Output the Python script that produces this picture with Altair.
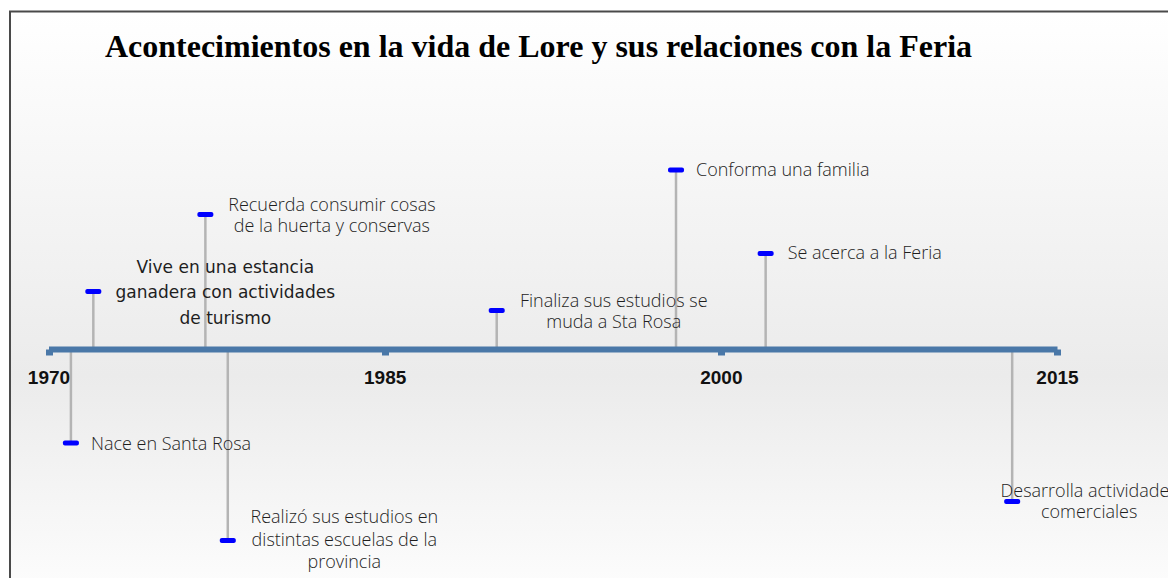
import altair as alt
import pandas as pd

# ---- data ----
title_text = "Acontecimientos en la vida de Lore y sus relaciones con la Feria"
years = [1971, 1972, 1977, 1978, 1990, 1998, 2002, 2013]
levels = [-94, 57.5, 134.5, -191.5, 38.5, 179, 95.5, -152.5]
labels = [
    "Nace en Santa Rosa",
    "Vive en una estancia\nganadera con actividades\nde turismo",
    "Recuerda consumir cosas\nde la huerta y conservas",
    "Realizó sus estudios en\ndistintas escuelas de la\nprovincia",
    "Finaliza sus estudios se\nmuda a Sta Rosa",
    "Conforma una familia",
    "Se acerca a la Feria",
    "Desarrolla actividades\ncomerciales",
]
axis_years = [1970, 1985, 2000, 2015]

df = pd.DataFrame({"year": years, "level": levels, "label": labels,
                   "idx": list(range(len(years)))})

W, H = 1160, 570
AXIS_COLOR = "#4a78a8"

xscale = alt.Scale(domain=[1970, 2015], range=[40.5, 1049], nice=False, zero=False)
yscale = alt.Scale(domain=[-220, 220], range=[561, 121], nice=False, zero=False)

x_axis = alt.Axis(
    values=axis_years, format="d", title="", orient="bottom", offset=-229,
    domainColor=AXIS_COLOR, domainWidth=6, domainCap="butt",
    tickColor=AXIS_COLOR, tickWidth=7, tickSize=6,
    labelFont="Liberation Sans", labelFontSize=19, labelFontWeight="bold",
    labelColor="#111111", labelPadding=13, labelFlush=False, labelOverlap=False,
    grid=False, zindex=1,
)
X = alt.X("year:Q", scale=xscale, axis=x_axis)

grad = alt.LinearGradient(
    gradient="linear",
    stops=[
        alt.GradientStop(color="#ffffff", offset=0),
        alt.GradientStop(color="#ebebeb", offset=0.6),
        alt.GradientStop(color="#ffffff", offset=1),
    ],
    x1=0, x2=0, y1=0, y2=1,
)

background = alt.Chart(alt.Data(values=[{"a": 1}])).mark_rect(
    fill=grad, stroke="#4a4a4a", strokeWidth=2
).encode(
    x=alt.value(2), x2=alt.value(W + 40), y=alt.value(3.5), y2=alt.value(H + 40)
)

title = alt.Chart(alt.Data(values=[{"t": title_text}])).mark_text(
    font="Liberation Serif", fontSize=32, fontWeight="bold", color="#000000",
    align="center", baseline="alphabetic"
).encode(x=alt.value(530.5), y=alt.value(49), text="t:N")

base = alt.Chart(df)

stems = base.transform_calculate(zero="0").mark_rule(
    color="#b4b4b4", strokeWidth=2.5
).encode(
    x=X,
    y=alt.Y("zero:Q", scale=yscale, axis=None),
    y2="level:Q",
)

markers = base.mark_tick(
    orient="horizontal", size=16, thickness=5, color="#0000ff", cornerRadius=2,
    opacity=1
).encode(x=X, y=alt.Y("level:Q", scale=yscale, axis=None))

# per-label text styling: (align, dx, dy, font, size, lineHeight, weight)
label_style = [
    ("left", 20, 2, "Open Sans", 18, 22, 300),
    ("center", 132, -24, "DejaVu Sans", 17, 25.5, 400),
    ("center", 126.5, -8.75, "Open Sans", 18, 21.5, 300),
    ("center", 116.5, -22.5, "Open Sans", 18, 22.5, 300),
    ("center", 117, -8.75, "Open Sans", 18, 21.5, 300),
    ("left", 20, 1, "Open Sans", 18, 22, 300),
    ("left", 22, 0.5, "Open Sans", 18, 22, 300),
    ("center", 77, -9.75, "Open Sans", 18, 21.5, 300),
]

text_layers = []
for i, (al, dx, dy, fnt, fs, lh, fw) in enumerate(label_style):
    text_layers.append(
        base.transform_filter(alt.datum.idx == i).mark_text(
            align=al, baseline="middle", dx=dx, dy=dy, font=fnt, fontSize=fs,
            fontWeight=fw, lineHeight=lh, lineBreak="\n", color="#1e1e1e"
        ).encode(x=X, y=alt.Y("level:Q", scale=yscale, axis=None), text="label:N")
    )

chart = alt.layer(background, stems, markers, *text_layers, title).properties(
    width=W, height=H, padding=0,
    autosize=alt.AutoSizeParams(type="none"),
    background="#ffffff",
).configure_view(strokeWidth=0)

chart.save("out.html", embed_options={"renderer": "svg", "actions": False})
